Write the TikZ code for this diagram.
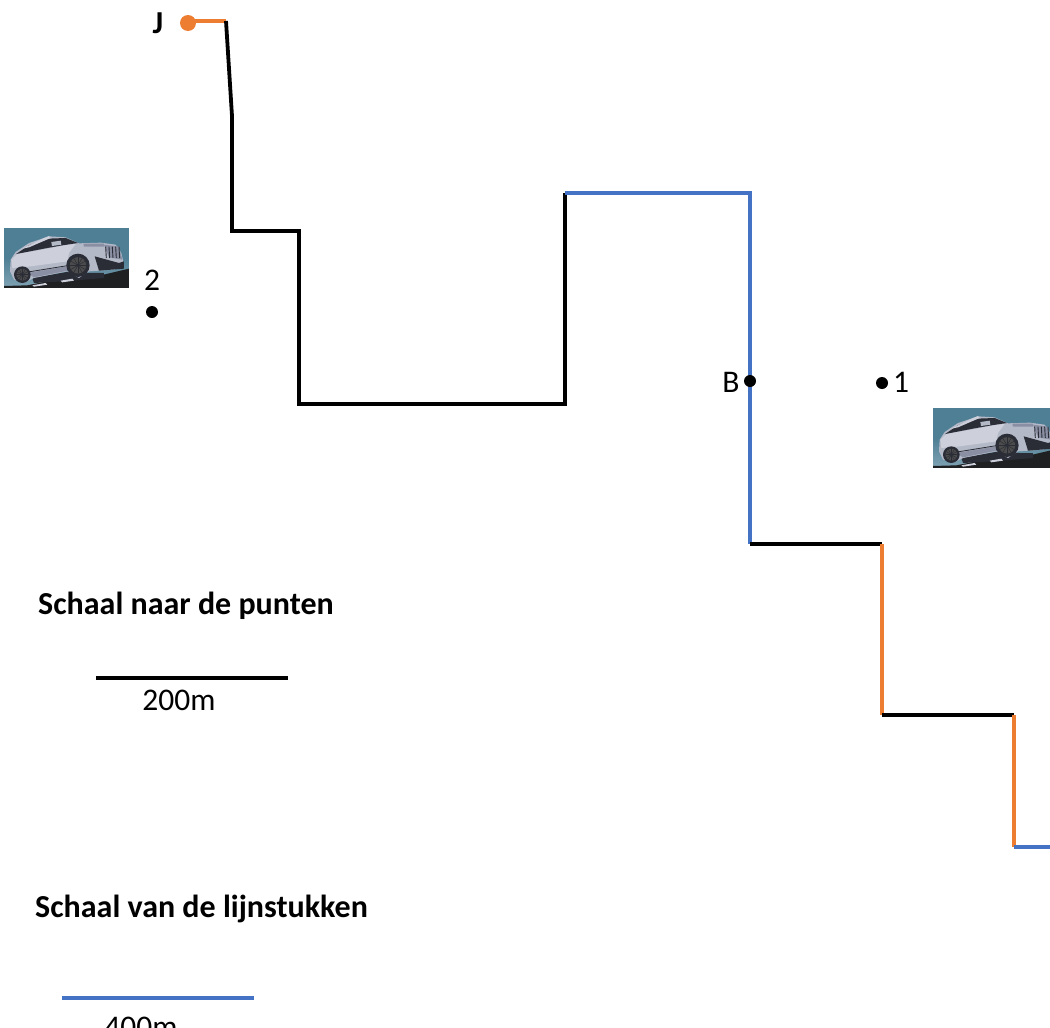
\documentclass[tikz,border=0pt]{standalone}
\usepackage{fontspec}
\setmainfont{Carlito}
\definecolor{routeblue}{HTML}{4472C4}
\definecolor{routeorange}{HTML}{ED7D31}
\definecolor{carsky}{HTML}{4F7F95}
\definecolor{carskylow}{HTML}{7FA3B3}
\definecolor{carbody}{HTML}{B4B9C8}
\definecolor{carlight}{HTML}{CDD0DB}
\definecolor{carshade}{HTML}{8A8FA3}
\definecolor{cardark}{HTML}{2A2D36}
\definecolor{carground}{HTML}{1E2022}
\tikzset{
  seg/.style={line width=3.8pt,line join=miter,line cap=rect},
  blackseg/.style={seg,draw=black},
  blueseg/.style={seg,draw=routeblue},
  orangeseg/.style={seg,draw=routeorange},
  pointdot/.style={circle,fill=black,inner sep=0pt,minimum size=12pt},
  startdot/.style={circle,fill=routeorange,inner sep=0pt,minimum size=16pt},
  lbl/.style={inner sep=0pt,font=\fontsize{31.5}{32}\selectfont},
  boldlbl/.style={lbl,font=\fontsize{32}{32}\selectfont\bfseries},
}
\newcommand{\carimage}[2]{%
\begin{scope}[shift={(#1,#2)},x=0.3333pt,y=-0.3333pt]
  \shade[top color=carsky,bottom color=carskylow,middle color=carsky] (0,0) rectangle (375,180);
  % ground
  \fill[carground] (0,180) -- (0,174) -- (70,172) -- (130,160) -- (200,150) -- (290,142) -- (375,122) -- (375,180) -- cycle;
  % under-car shadow
  \fill[cardark] (85,150) -- (200,130) -- (260,135) -- (300,135) -- (300,150) -- (180,160) -- (90,165) -- cycle;
  % snow patches
  \fill[carlight] (85,172) -- (125,165) -- (130,170) -- (90,176) -- cycle;
  \fill[carlight] (170,158) -- (205,152) -- (210,158) -- (175,163) -- cycle;
  % body
  \fill[carbody] (20,95) -- (35,72) -- (75,45) -- (135,25) -- (185,28) -- (225,46) -- (290,44) -- (335,50) -- (352,75) -- (360,110) -- (330,125) -- (255,130) -- (225,150) -- (190,130) -- (90,150) -- (60,165) -- (30,155) -- (18,130) -- cycle;
  \fill[carlight] (22,95) -- (40,78) -- (130,62) -- (190,50) -- (215,48) -- (195,75) -- (190,100) -- (80,115) -- (25,120) -- cycle;
  \fill[carshade] (70,135) -- (190,115) -- (192,128) -- (90,148) -- cycle;
  \draw[cardark,line width=0.8pt] (72,132) -- (190,113);
  % windows
  \fill[cardark] (36,78) -- (75,52) -- (130,32) -- (185,30) -- (222,45) -- (175,52) -- (130,60) -- cycle;
  \fill[carlight] (55,62) -- (120,30) -- (135,24) -- (140,30) -- (75,58) -- cycle;
  \fill[carbody] (142,42) -- (170,38) -- (172,50) -- (144,54) -- cycle;
  % grille and front
  \fill[cardark] (272,85) -- (345,105) -- (360,100) -- (360,122) -- (285,128) -- cycle;
  \fill[carshade] (300,50) -- (345,56) -- (355,95) -- (315,88) -- cycle;
  \foreach \gx in {305,315,325,335,345}{\draw[cardark,line width=0.9pt] (\gx,56) -- (\gx+2,90);}
  \fill[carshade] (238,47) -- (300,47) -- (300,56) -- (240,56) -- cycle;
  % wheels
  \foreach \wx/\wy/\wr in {222/112/35,55/140/25}{
    \fill[cardark] (\wx,\wy) circle[radius=\wr];
    \fill[gray!60!black] (\wx,\wy) circle[radius=0.7*\wr];
    \foreach \wa in {0,30,...,330}{\draw[cardark,line width=0.5pt] (\wx,\wy) -- ++(\wa:0.7*\wr);}
    \fill[cardark] (\wx,\wy) circle[radius=0.12*\wr];
  }
\end{scope}}
\begin{document}
\begin{tikzpicture}[x=1pt,y=-1pt]
\useasboundingbox (0,0) rectangle (1050,1028);
\clip (0,0) rectangle (1050,1028);
\carimage{4}{228}
\carimage{933}{408}
% route vertices
\coordinate (r0) at (188,21);
\coordinate (r1) at (226,21);
\coordinate (r2) at (232,116);
\coordinate (r3) at (232,231);
\coordinate (r4) at (299,231);
\coordinate (r5) at (299,404);
\coordinate (r6) at (565,404);
\coordinate (r7) at (565,193);
\coordinate (r8) at (750,193);
\coordinate (r9) at (750,544);
\coordinate (r10) at (882,544);
\coordinate (r11) at (882,715);
\coordinate (r12) at (1014,715);
\coordinate (r13) at (1014,847);
\coordinate (r14) at (1052,847);
\draw[orangeseg,line cap=butt] (r0) -- (r1);
\draw[blackseg,line cap=butt] (r1) -- (r2) -- (r3) -- (r4) -- (r5) -- (r6) -- (r7);
\draw[blueseg,line cap=butt] (r7) -- (r8) -- (r9);
\draw[blackseg,line cap=butt] (r9) -- (r10);
\draw[orangeseg,line cap=butt] (r10) -- (r11);
\draw[blackseg,line cap=butt] (r11) -- (r12);
\draw[orangeseg,line cap=butt] (r12) -- (r13);
\draw[blueseg,line cap=butt] (r13) -- (r14);
% points
\node[startdot] (startJ) at (188,23) {};
\node[boldlbl] (labelJ) at (158,23) {J};
\node[pointdot] (pt2) at (152,312) {};
\node[lbl] (label2) at (152,280) {2};
\node[pointdot] (ptB) at (750,381) {};
\node[lbl] (labelB) at (731,382) {B};
\node[pointdot] (pt1) at (882,383) {};
\node[lbl] (label1) at (901,382) {1};
% scales
\node[boldlbl,anchor=west] (titleA) at (38,606) {Schaal naar de punten};
\coordinate (sa1) at (96,678);
\coordinate (sa2) at (288,678);
\draw[line width=3.8pt,draw=black] (sa1) -- (sa2);
\node[lbl] (labelA) at (179,700) {200m};
\node[boldlbl,anchor=west] (titleB) at (35,909) {Schaal van de lijnstukken};
\coordinate (sb1) at (62,998);
\coordinate (sb2) at (254,998);
\draw[line width=3.8pt,draw=routeblue] (sb1) -- (sb2);
\node[lbl] (labelB2) at (141,1027) {400m};
\end{tikzpicture}
\end{document}
